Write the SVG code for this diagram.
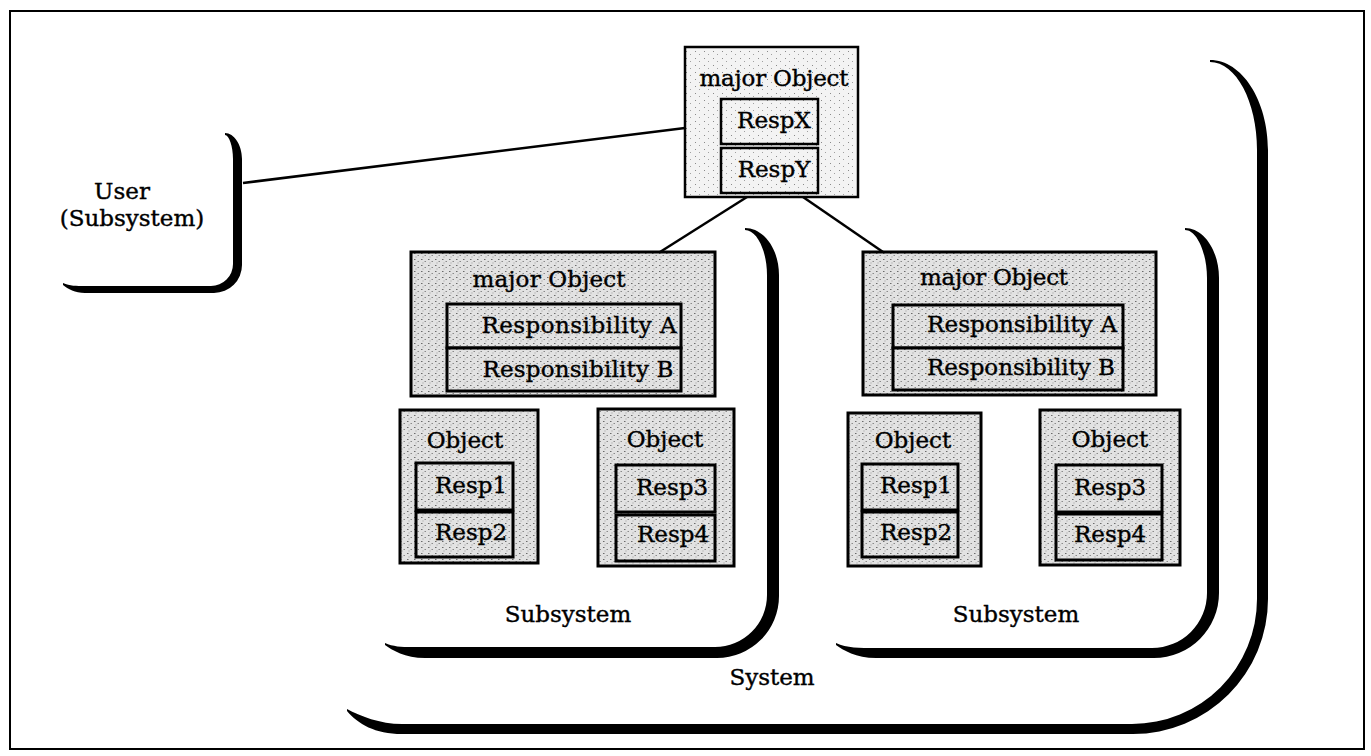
<svg xmlns="http://www.w3.org/2000/svg" width="1371" height="756" viewBox="0 0 1371 756">
<defs>
<pattern id="dense" width="7" height="6" patternUnits="userSpaceOnUse">
<rect width="7" height="6" fill="#e2e2e2"/>
<rect x="1" y="1" width="1.5" height="1" fill="#6a6a6a"/>
<rect x="4.5" y="3" width="1.5" height="1" fill="#8a8a8a"/>
<rect x="2.5" y="4.5" width="1" height="1" fill="#9a9a9a"/>
</pattern>
<pattern id="light" width="9" height="7" patternUnits="userSpaceOnUse">
<rect width="9" height="7" fill="#f3f3f3"/>
<rect x="2" y="2" width="1" height="1" fill="#8a8a8a"/>
<rect x="6" y="5" width="1" height="1" fill="#a0a0a0"/>
</pattern>
</defs>
<style>
.t{font-family:"DejaVu Serif","Liberation Serif",serif;font-size:23px;fill:#000;stroke:#000;stroke-width:0.4;text-anchor:middle}
.box{stroke:#000;stroke-width:3;fill:url(#dense)}
.lbox{stroke:#000;stroke-width:2.5;fill:url(#light)}
.br{fill:#000;stroke:none}
.con{stroke:#000;stroke-width:2.5;fill:none}
</style>
<rect x="10" y="11" width="1354" height="738" fill="#fff" stroke="#000" stroke-width="2"/>

<g id="connectors">
<line class="con" x1="243" y1="183" x2="685" y2="128"/>
<line class="con" x1="747" y1="197" x2="660" y2="252"/>
<line class="con" x1="803" y1="197" x2="883" y2="252"/>
</g>

<g id="system">
<path class="br" d="M1210,60 C1242,60 1268,100.5 1268,150 L1268,599 A135,135 0 0 1 1133,734 L402,734 C375,734 358,724 347,711 L347,709 C360,716 380,724 402,724 L1132,724 A125,125 0 0 0 1257,599 L1257,150 C1257,101.6 1236,62 1210,62 Z"/>
<text class="t" x="772" y="685">System</text>
</g>

<g id="user">
<path class="br" d="M225,133 C234,133 242,145 242,159 L242,265 A28,28 0 0 1 214,293 L85,293 C75,293 68,289 63,285 L63,283 C70,286 76,286 85,286 L211,286 A22,22 0 0 0 233,264 L233,159 C233,146 229,135 225,135 Z"/>
<text class="t" x="122" y="199">User</text>
<text class="t" x="132" y="226">(Subsystem)</text>
</g>

<g id="top-major">
<rect class="lbox" x="685" y="47" width="173" height="150"/>
<text class="t" x="774" y="86" textLength="149" lengthAdjust="spacing">major Object</text>
<rect class="lbox" x="721" y="99" width="97" height="45"/>
<text class="t" x="774" y="128">RespX</text>
<rect class="lbox" x="721" y="148" width="97" height="45"/>
<text class="t" x="774" y="177">RespY</text>
</g>

<g id="subsystem-left">
<path class="br" d="M745,228 C763.7,228 779,249 779,275 L779,596 A62,62 0 0 1 717,658 L425,658 C405,658 392,650 385,645 L385,643 C396,648 408,647 425,647 L715,647 A52,52 0 0 0 767,595 L767,275 C767,251 757,230 745,230 Z"/>
<text class="t" x="568" y="622">Subsystem</text>
</g>

<g id="major-left">
<rect class="box" x="411" y="252" width="304" height="144"/>
<text class="t" x="549" y="287" textLength="153" lengthAdjust="spacing">major Object</text>
<rect class="box" x="447" y="304" width="234" height="44"/>
<text class="t" x="579" y="333" textLength="195" lengthAdjust="spacing">Responsibility A</text>
<rect class="box" x="447" y="348" width="234" height="43"/>
<text class="t" x="578" y="377" textLength="191" lengthAdjust="spacing">Responsibility B</text>
</g>

<g id="object-l1">
<rect class="box" x="400" y="410" width="138" height="153"/>
<text class="t" x="465" y="448">Object</text>
<rect class="box" x="416" y="463" width="97" height="47"/>
<text class="t" x="471" y="493">Resp1</text>
<rect class="box" x="416" y="512" width="97" height="45"/>
<text class="t" x="471" y="540">Resp2</text>
</g>

<g id="object-l2">
<rect class="box" x="598" y="409" width="136" height="157"/>
<text class="t" x="665" y="447">Object</text>
<rect class="box" x="616" y="465" width="99" height="47"/>
<text class="t" x="672" y="495">Resp3</text>
<rect class="box" x="616" y="515" width="99" height="46"/>
<text class="t" x="673" y="542">Resp4</text>
</g>

<g id="subsystem-right">
<path class="br" d="M1185,228 C1203.7,228 1219,250.5 1219,278 L1219,593 A65,65 0 0 1 1154,658 L876,658 C856,658 843,650 836,645 L836,643 C847,648 859,648 876,648 L1152,648 A55,55 0 0 0 1207,593 L1207,278 C1207,253 1197,230 1185,230 Z"/>
<text class="t" x="1016" y="622">Subsystem</text>
</g>

<g id="major-right">
<rect class="box" x="863" y="252" width="293" height="143"/>
<text class="t" x="994" y="285" textLength="148" lengthAdjust="spacing">major Object</text>
<rect class="box" x="893" y="305" width="230" height="43"/>
<text class="t" x="1022" y="332" textLength="190" lengthAdjust="spacing">Responsibility A</text>
<rect class="box" x="893" y="348" width="230" height="42"/>
<text class="t" x="1021" y="375" textLength="188" lengthAdjust="spacing">Responsibility B</text>
</g>

<g id="object-r1">
<rect class="box" x="848" y="413" width="133" height="153"/>
<text class="t" x="913" y="448">Object</text>
<rect class="box" x="862" y="464" width="96" height="46"/>
<text class="t" x="916" y="493">Resp1</text>
<rect class="box" x="862" y="512" width="96" height="45"/>
<text class="t" x="916" y="540">Resp2</text>
</g>

<g id="object-r2">
<rect class="box" x="1040" y="410" width="140" height="155"/>
<text class="t" x="1110" y="447">Object</text>
<rect class="box" x="1056" y="465" width="106" height="47"/>
<text class="t" x="1110" y="495">Resp3</text>
<rect class="box" x="1056" y="514" width="106" height="46"/>
<text class="t" x="1110" y="542">Resp4</text>
</g>
</svg>
